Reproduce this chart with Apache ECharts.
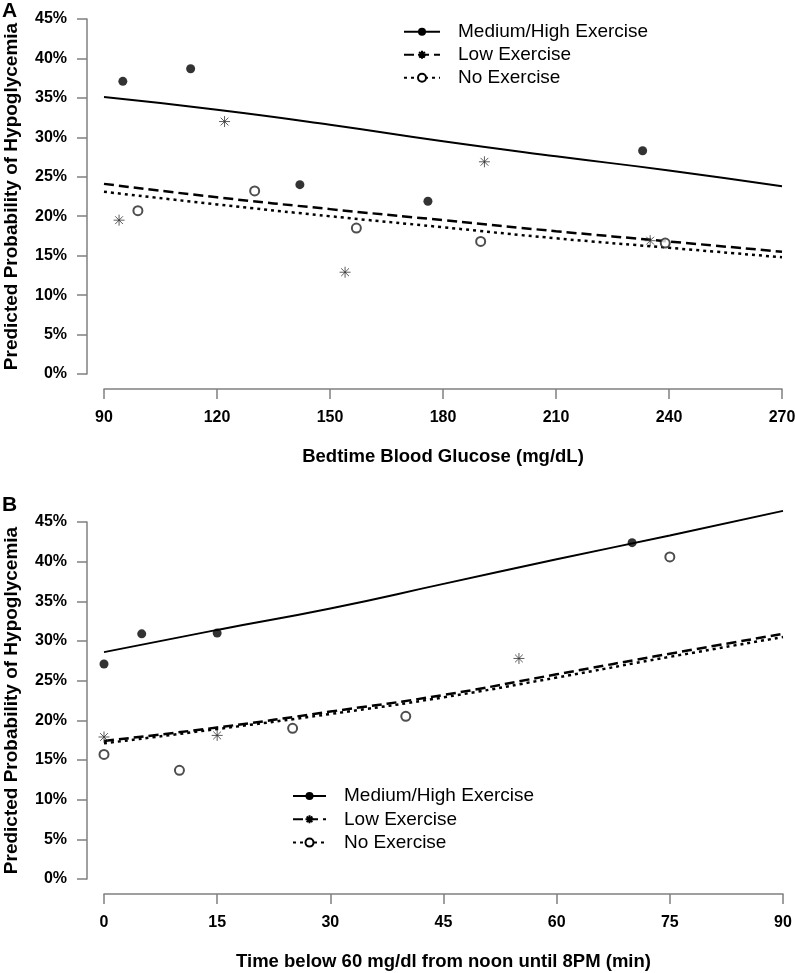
<!DOCTYPE html>
<html><head><meta charset="utf-8">
<script src="https://cdn.jsdelivr.net/npm/echarts@6/dist/echarts.min.js"></script>
<style>html,body{margin:0;padding:0;background:#fff}#c{width:795px;height:973px}</style>
</head><body><div id="c"></div>
<script>
// ---------- Data ----------
const legendNames = ['Medium/High Exercise', 'Low Exercise', 'No Exercise'];

// Panel A: Bedtime blood glucose
const aMedX = [95, 113, 142, 176, 233];
const aMedY = [37.1, 38.7, 24.0, 21.9, 28.3];
const aLowX = [94, 122, 154, 191, 235];
const aLowY = [19.5, 32.0, 12.9, 26.9, 16.9];
const aNoX = [99, 130, 157, 190, 239];
const aNoY = [20.7, 23.2, 18.5, 16.8, 16.6];
const aFitX = [90, 120, 150, 180, 210, 240, 270];
const aFitMed = [35.1, 33.5, 31.6, 29.5, 27.6, 25.8, 23.8];
const aFitLow = [24.1, 22.4, 20.9, 19.5, 18.1, 16.8, 15.5];
const aFitNo = [23.1, 21.5, 20.0, 18.6, 17.2, 16.0, 14.8];

// Panel B: Time below 60 mg/dl
const bMedX = [0, 5, 15, 35, 70];
const bMedY = [27.1, 30.9, 31.0, 45.1, 42.4];
const bLowX = [0, 15, 55];
const bLowY = [17.9, 18.1, 27.8];
const bNoX = [0, 10, 25, 40, 75];
const bNoY = [15.7, 13.7, 19.0, 20.5, 40.6];
const bFitX = [0, 15, 30, 45, 60, 75, 90];
const bFitMed = [28.6, 31.4, 34.1, 37.2, 40.3, 43.3, 46.4];
const bFitLow = [17.4, 19.1, 21.1, 23.2, 25.8, 28.4, 30.9];
const bFitNo = [17.1, 18.9, 20.8, 22.9, 25.4, 28.0, 30.5];

const yTitle = 'Predicted Probability of Hypoglycemia';
const aXTitle = 'Bedtime Blood Glucose (mg/dL)';
const bXTitle = 'Time below 60 mg/dl from noon until 8PM (min)';

// ---------- Helpers ----------
const FONT = "'Liberation Sans', Arial, sans-serif";
const AX = '#808080';
const ASTER = 'path://M10,0L10,20M0,10L20,10M2.93,2.93L17.07,17.07M2.93,17.07L17.07,2.93';
const pairs = (xs, ys) => xs.map((x, i) => [x, ys[i]]);

function xAxisCfg(grid, min, max, interval, name) {
  return {
    type: 'value', gridIndex: grid, min, max, interval, offset: 15,
    axisLine: { show: true, onZero: false, lineStyle: { color: AX, width: 1.5 } },
    axisTick: { show: true, length: 10, lineStyle: { color: AX, width: 1.5 } },
    axisLabel: { margin: 21, fontSize: 16, fontWeight: 'bold', color: '#000', fontFamily: FONT },
    splitLine: { show: false },
    name, nameLocation: 'middle', nameGap: 58,
    nameTextStyle: { fontSize: 18.5, fontWeight: 'bold', color: '#000', fontFamily: FONT }
  };
}
function yAxisCfg(grid) {
  return {
    type: 'value', gridIndex: grid, min: 0, max: 45, interval: 5, offset: 17,
    axisLine: { show: true, onZero: false, lineStyle: { color: AX, width: 1.5 } },
    axisTick: { show: true, length: 10, lineStyle: { color: AX, width: 1.5 } },
    axisLabel: { margin: 20, fontSize: 16, fontWeight: 'bold', color: '#000', fontFamily: FONT, formatter: '{value}%' },
    splitLine: { show: false },
    name: yTitle, nameLocation: 'middle', nameRotate: 90, nameGap: 66,
    nameTextStyle: { fontSize: 19, fontWeight: 'bold', color: '#000', fontFamily: FONT }
  };
}
function fitSeries(idx, name, xs, ys, kind) {
  const s = {
    type: 'line', name, xAxisIndex: idx, yAxisIndex: idx,
    data: pairs(xs, ys), smooth: true, showSymbol: false, clip: false, silent: true,
    z: 2
  };
  if (kind === 'med') {
    s.symbol = 'circle';
    s.itemStyle = { color: '#000' };
    s.lineStyle = { color: '#000', width: 2, type: 'solid' };
  } else if (kind === 'low') {
    s.symbol = ASTER;
    s.itemStyle = { color: '#000', borderColor: '#000', borderWidth: 2 };
    s.lineStyle = { color: '#000', width: 2.5, type: [10, 5] };
    s.z = 4;
  } else {
    s.symbol = 'emptyCircle';
    s.itemStyle = { color: '#000' };
    s.lineStyle = { color: '#000', width: 2.5, type: [3, 4] };
    s.z = 3;
  }
  return s;
}
function ptSeries(idx, xs, ys, kind) {
  const s = {
    type: 'scatter', name: 'pts-' + kind + idx, xAxisIndex: idx, yAxisIndex: idx,
    data: pairs(xs, ys), silent: true, z: 5
  };
  if (kind === 'med') {
    s.symbol = 'circle'; s.symbolSize = 9; s.itemStyle = { color: '#000' };
  } else if (kind === 'low') {
    s.symbol = ASTER; s.symbolSize = 11;
    s.itemStyle = { color: '#333', borderColor: '#333', borderWidth: 1 };
  } else {
    s.symbol = 'emptyCircle'; s.symbolSize = 9;
    s.itemStyle = { color: '#222', borderColor: '#222', borderWidth: 1 };
  }
  return s;
}
function legendCfg(left, top, itemWidth, gap) {
  return {
    data: legendNames, orient: 'vertical', left, top, padding: 0,
    itemWidth, itemHeight: 10, itemGap: gap, selectedMode: false,
    textStyle: { fontSize: 19, lineHeight: 19, color: '#000', fontFamily: FONT, padding: [0, 0, 0, 13] }
  };
}

const chart = echarts.init(document.getElementById('c'), null, { renderer: 'canvas' });
chart.setOption({
  animation: false,
  backgroundColor: '#fff',
  title: [
    { text: 'A', left: 2, top: 1, padding: 0, textStyle: { fontSize: 21, fontWeight: 'bold', color: '#000', fontFamily: FONT } },
    { text: 'B', left: 2, top: 495, padding: 0, textStyle: { fontSize: 21, fontWeight: 'bold', color: '#000', fontFamily: FONT } }
  ],
  grid: [
    { left: 104, width: 678, top: 19, height: 355, containLabel: false, outerBoundsMode: 'none' },
    { left: 104, width: 679, top: 522, height: 357, containLabel: false, outerBoundsMode: 'none' }
  ],
  legend: [
    legendCfg(403, 22.2, 36, 4),
    legendCfg(292, 786.5, 33, 4.3)
  ],
  xAxis: [xAxisCfg(0, 90, 270, 30, aXTitle), xAxisCfg(1, 0, 90, 15, bXTitle)],
  yAxis: [yAxisCfg(0), yAxisCfg(1)],
  series: [
    fitSeries(0, legendNames[0], aFitX, aFitMed, 'med'),
    fitSeries(0, legendNames[1], aFitX, aFitLow, 'low'),
    fitSeries(0, legendNames[2], aFitX, aFitNo, 'no'),
    fitSeries(1, legendNames[0], bFitX, bFitMed, 'med'),
    fitSeries(1, legendNames[1], bFitX, bFitLow, 'low'),
    fitSeries(1, legendNames[2], bFitX, bFitNo, 'no'),
    ptSeries(0, aMedX, aMedY, 'med'),
    ptSeries(0, aLowX, aLowY, 'low'),
    ptSeries(0, aNoX, aNoY, 'no'),
    ptSeries(1, bMedX, bMedY, 'med'),
    ptSeries(1, bLowX, bLowY, 'low'),
    ptSeries(1, bNoX, bNoY, 'no')
  ]
});
</script></body></html>
